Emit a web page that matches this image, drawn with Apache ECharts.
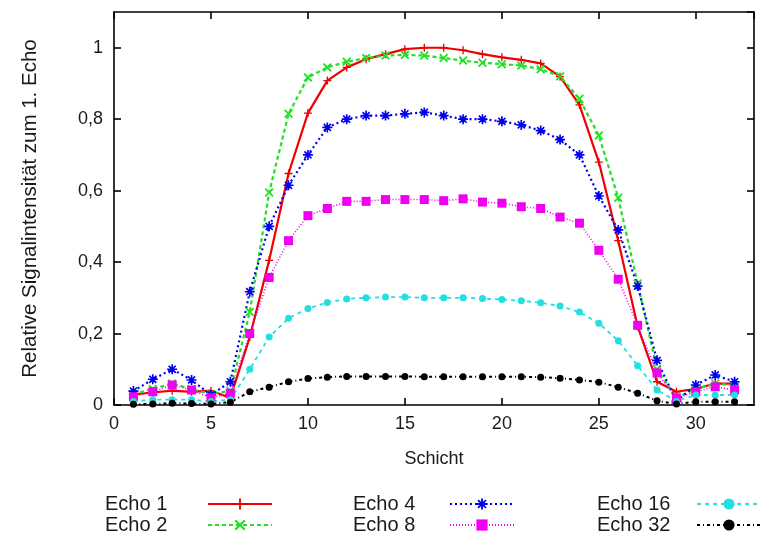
<!DOCTYPE html>
<html>
<head>
<meta charset="utf-8">
<script src="https://cdn.jsdelivr.net/npm/echarts@6/dist/echarts.min.js"></script>
<style>
html,body{margin:0;padding:0;background:#fff;}
#chart{width:763px;height:538px;}
</style>
</head>
<body>
<div id="chart"></div>
<script>
// Slice numbers (x values)
const slices = [1,2,3,4,5,6,7,8,9,10,11,12,13,14,15,16,17,18,19,20,21,22,23,24,25,26,27,28,29,30,31,32];
const seriesNames = ['Echo 1','Echo 2','Echo 4','Echo 8','Echo 16','Echo 32'];
const echo1  = [0.030,0.035,0.040,0.037,0.040,0.020,0.190,0.405,0.648,0.817,0.908,0.945,0.968,0.982,0.996,1.000,1.000,0.993,0.982,0.973,0.966,0.956,0.919,0.840,0.680,0.460,0.220,0.065,0.037,0.045,0.060,0.060];
const echo2  = [0.030,0.045,0.060,0.045,0.030,0.040,0.260,0.595,0.815,0.917,0.945,0.961,0.971,0.978,0.980,0.978,0.971,0.964,0.958,0.954,0.950,0.940,0.920,0.857,0.754,0.580,0.340,0.100,0.020,0.045,0.060,0.055];
const echo4  = [0.039,0.072,0.100,0.070,0.028,0.065,0.317,0.500,0.615,0.700,0.777,0.800,0.810,0.810,0.815,0.819,0.810,0.800,0.800,0.794,0.784,0.768,0.743,0.700,0.585,0.490,0.333,0.125,0.010,0.056,0.084,0.065];
const echo8  = [0.023,0.037,0.056,0.042,0.020,0.033,0.200,0.357,0.460,0.530,0.550,0.570,0.570,0.575,0.575,0.575,0.572,0.577,0.568,0.565,0.555,0.550,0.526,0.509,0.433,0.352,0.223,0.090,0.020,0.037,0.051,0.042];
const echo16 = [0.010,0.015,0.015,0.015,0.010,0.015,0.100,0.190,0.243,0.270,0.287,0.297,0.300,0.302,0.302,0.300,0.300,0.300,0.298,0.295,0.292,0.286,0.277,0.260,0.229,0.180,0.110,0.042,0.010,0.028,0.028,0.028];
const echo32 = [0.002,0.003,0.005,0.004,0.003,0.008,0.037,0.050,0.065,0.074,0.078,0.080,0.080,0.080,0.080,0.079,0.079,0.079,0.079,0.079,0.079,0.078,0.075,0.070,0.064,0.050,0.033,0.012,0.003,0.009,0.009,0.009];
const allValues = [echo1, echo2, echo4, echo8, echo16, echo32];

const FONT = 'Liberation Sans, Arial, Helvetica, sans-serif';
const TXT = '#1a1a1a';

const plusPath = 'path://M-1,-6H1V-1H6V1H1V6H-1V1H-6V-1H-1Z';
const xPath = 'path://M3.54,-4.95L4.95,-3.54L1.41,0L4.95,3.54L3.54,4.95L0,1.41L-3.54,4.95L-4.95,3.54L-1.41,0L-4.95,-3.54L-3.54,-4.95L0,-1.41Z';
const starPath = 'path://M-1,-6H1V-1H6V1H1V6H-1V1H-6V-1H-1Z M3.54,-4.95L4.95,-3.54L1.41,0L4.95,3.54L3.54,4.95L0,1.41L-3.54,4.95L-4.95,3.54L-1.41,0L-4.95,-3.54L-3.54,-4.95L0,-1.41Z';

const styles = [
  {color:'#f00000', type:'solid', width:2.2, symbol:plusPath, size:8},
  {color:'#22e022', type:[4,3], width:2.2, symbol:xPath, size:9},
  {color:'#0000f0', type:[2,3], width:2.2, symbol:starPath, size:10},
  {color:'#f000f0', type:[1,2], width:1.6, symbol:'rect', size:9},
  {color:'#22e0e0', type:[4,4], width:1.8, symbol:'circle', size:7},
  {color:'#000000', type:[3,3,1,3], width:2, symbol:'circle', size:7}
];

const series = seriesNames.map((name, k) => ({
  name: name,
  type: 'line',
  data: slices.map((x, i) => [x, allValues[k][i]]),
  symbol: styles[k].symbol,
  symbolSize: styles[k].size,
  showAllSymbol: true,
  lineStyle: {color: styles[k].color, width: styles[k].width, type: styles[k].type},
  itemStyle: {color: styles[k].color},
  emphasis: {disabled: true},
  animation: false
}));

function legendCfg(names, left, textW) {
  return {
    data: names,
    orient: 'vertical',
    left: left,
    top: 494,
    padding: 0,
    align: 'right',
    itemWidth: 64,
    itemHeight: 14,
    itemGap: 1,
    selectedMode: false,
    formatter: n => '{t|' + n + '}',
    textStyle: {
      fontSize: 20, fontFamily: FONT, color: TXT,
      rich: {t: {width: textW, align: 'left', fontSize: 20, lineHeight: 23, fontFamily: FONT, color: TXT}}
    }
  };
}

const axisLineStyle = {color:'#000', width:1.6};
const chart = echarts.init(document.getElementById('chart'), null, {renderer:'canvas'});
chart.setOption({
  animation: false,
  backgroundColor: '#fff',
  grid: {left:114, right:9, top:12, bottom:133, containLabel:false},
  legend: [
    legendCfg(['Echo 1','Echo 2'], 105, 98),
    legendCfg(['Echo 4','Echo 8'], 353, 92),
    legendCfg(['Echo 16','Echo 32'], 597, 95)
  ],
  xAxis: [
    {type:'value', min:0, max:33, interval:5, position:'bottom',
     axisLine:{show:true, onZero:false, lineStyle:axisLineStyle},
     axisTick:{show:true, inside:true, length:7, lineStyle:axisLineStyle},
     axisLabel:{fontSize:18, fontFamily:FONT, color:TXT, margin:10, showMaxLabel:false},
     splitLine:{show:false},
     name:'Schicht', nameLocation:'middle', nameGap:45,
     nameTextStyle:{fontSize:18, fontFamily:FONT, color:TXT}},
    {type:'value', min:0, max:33, interval:5, position:'top',
     axisLine:{show:true, onZero:false, lineStyle:axisLineStyle},
     axisTick:{show:true, inside:true, length:7, lineStyle:axisLineStyle},
     axisLabel:{show:false}, splitLine:{show:false}}
  ],
  yAxis: [
    {type:'value', min:0, max:1.1, interval:0.2, position:'left',
     axisLine:{show:true, onZero:false, lineStyle:axisLineStyle},
     axisTick:{show:true, inside:true, length:7, lineStyle:axisLineStyle},
     axisLabel:{fontSize:18, fontFamily:FONT, color:TXT, margin:11, showMaxLabel:false,
       formatter: v => String(Number(v.toFixed(1))).replace('.', ',')},
     splitLine:{show:false},
     name:'Relative Signalintensität zum 1. Echo', nameLocation:'middle', nameGap:73,
     nameTextStyle:{fontSize:20.5, fontFamily:FONT, color:TXT}},
    {type:'value', min:0, max:1.1, interval:0.2, position:'right',
     axisLine:{show:true, onZero:false, lineStyle:axisLineStyle},
     axisTick:{show:true, inside:true, length:7, lineStyle:axisLineStyle},
     axisLabel:{show:false}, splitLine:{show:false}}
  ],
  series: series
});
</script>
</body>
</html>
